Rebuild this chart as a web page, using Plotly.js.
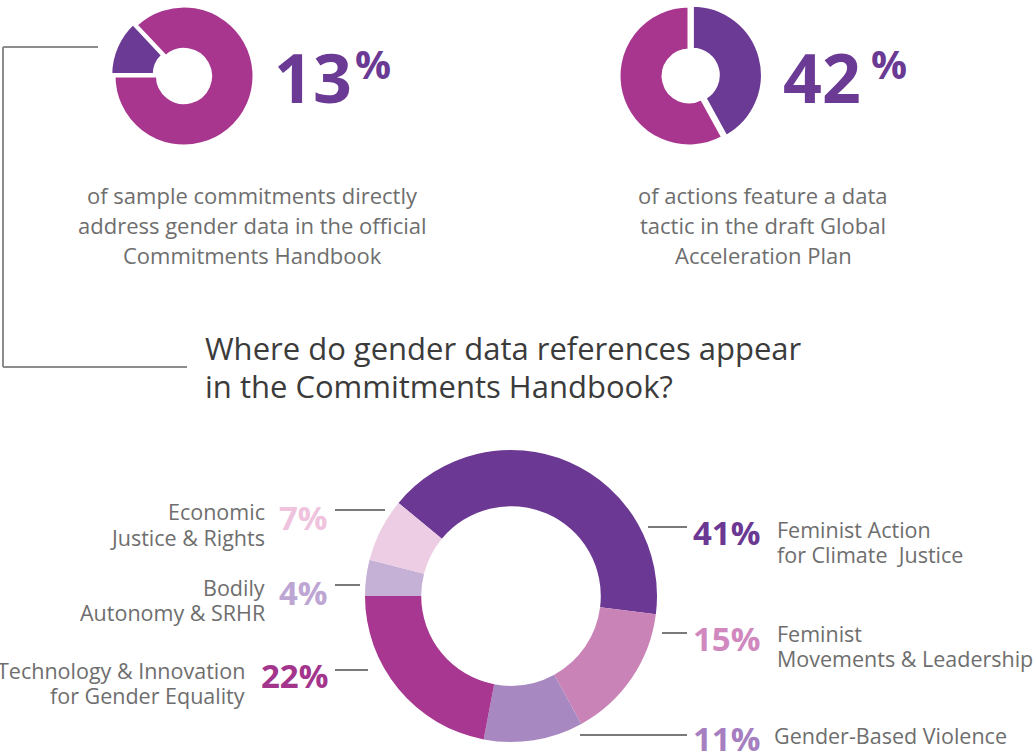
<!DOCTYPE html>
<html><head><meta charset="utf-8">
<script src="https://cdn.plot.ly/plotly-3.0.1.min.js"></script>
<style>html,body{margin:0;padding:0;background:#fff}#chart{width:1036px;height:753px}</style>
</head><body><div id="chart"></div>
<script>
// ---------- DATA ----------
const stat1Labels = ["Directly address gender data", "Other sample commitments"];
const stat1Values = [13, 87];
const stat1Lines = ["of sample commitments directly", "address gender data in the official", "Commitments Handbook"];

const stat2Labels = ["Feature a data tactic", "Other actions"];
const stat2Values = [42, 58];
const stat2Lines = ["of actions feature a data", "tactic in the draft Global", "Acceleration Plan"];

const titleLines = ["Where do gender data references appear", "in the Commitments Handbook?"];

const categories = ["Feminist Action for Climate Justice", "Feminist Movements & Leadership", "Gender-Based Violence",
  "Technology & Innovation for Gender Equality", "Bodily Autonomy & SRHR", "Economic Justice & Rights"];
const categoryLines = [["Feminist Action", "for Climate  Justice"], ["Feminist", "Movements & Leadership"], ["Gender-Based Violence"],
  ["Technology & Innovation", "for Gender Equality"], ["Bodily", "Autonomy & SRHR"], ["Economic", "Justice & Rights"]];
const shares = [41, 15, 11, 22, 4, 7];

// ---------- STYLE ----------
const W = 1036, H = 753;
const X = px => px / W, Y = py => 1 - py / H;
const PURPLE = "#6a3a94", MAGENTA = "#a8368f";
const sliceColors = ["#6b3893", "#c983b7", "#a888c0", "#a73790", "#c6b1d6", "#edcde3"];
const pctColors = ["#6b3893", "#d088bf", "#a67fc1", "#a3358c", "#bea6d4", "#efc3dd"];
const GRAY = "#6e6e6e";
const BODY = "Open Sans, Lato, sans-serif";

function dom(cx, cy, half) {
  return { x: [X(cx - half), X(cx + half)], y: [Y(cy + half), Y(cy - half)] };
}

const traces = [
  { type: "pie", labels: stat1Labels, values: stat1Values, hole: 0.38, sort: false, direction: "clockwise",
    rotation: -90, pull: [0.05, 0], textinfo: "none", hoverinfo: "none",
    marker: { colors: [PURPLE, MAGENTA], line: { color: "#fff", width: 3 } }, domain: dom(184, 76, 73.5) },
  { type: "pie", labels: stat2Labels, values: stat2Values, hole: 0.37, sort: false, direction: "clockwise",
    rotation: 0, pull: [0.05, 0], textinfo: "none", hoverinfo: "none",
    marker: { colors: [PURPLE, MAGENTA], line: { color: "#fff", width: 3 } }, domain: dom(689, 76, 73.5) },
  { type: "pie", labels: categories, values: shares, hole: 0.615, sort: false, direction: "clockwise",
    rotation: -50.4, textinfo: "none", hoverinfo: "none",
    marker: { colors: sliceColors, line: { color: "#fff", width: 0 } }, domain: dom(511, 596, 146) }
];

const ann = [];
function txt(text, x, y, size, color, xanchor, opts) {
  ann.push(Object.assign({ text: text, x: X(x), y: Y(y), xref: "paper", yref: "paper", showarrow: false,
    xanchor: xanchor, yanchor: "middle", font: { family: BODY, size: size, color: color } }, opts || {}));
}

// Big stats
txt("<b>" + stat1Values[0] + "</b>", 272, 76, 68, PURPLE, "left");
txt("<b>%</b>", 353, 63, 40, PURPLE, "left");
txt("<b>" + stat2Values[0] + "</b>", 781, 76, 68, PURPLE, "left");
txt("<b>%</b>", 869, 63, 40, PURPLE, "left");

stat1Lines.forEach((s, i) => txt(s, 252, 195 + 30 * i, 22, GRAY, "center"));
stat2Lines.forEach((s, i) => txt(s, 763, 195 + 30 * i, 22, GRAY, "center"));
titleLines.forEach((s, i) => txt(s, 203, 348 + 38 * i, 31, "#3b3b3b", "left"));

// Big donut labels: [side, pctY, labelEdgeX, firstLineY, leader x0, x1, leaderY]
const place = [
  ["R", 532, 775, 529, 648, 687, 527],
  ["R", 638, 775, 633, 662, 687, 633],
  ["R", 738, 772, 735, 580, 687, 735],
  ["L", 675, 247, 670, 335, 368, 670],
  ["L", 592, 267, 587, 335, 360, 585],
  ["L", 517, 267, 512, 335, 385, 510]
];
const shapes = [];
shares.forEach((v, i) => {
  const p = place[i];
  const right = p[0] === "R";
  txt("<b>" + v + "%</b>", right ? 691 : 330, p[1], 33, pctColors[i], right ? "left" : "right");
  categoryLines[i].forEach((s, j) => txt(s, p[2], p[3] + 25 * j, 21.5, GRAY, right ? "left" : "right"));
  shapes.push({ type: "line", xref: "paper", yref: "paper", x0: X(p[4]), x1: X(p[5]), y0: Y(p[6]), y1: Y(p[6]),
    line: { color: "#7a7a7a", width: 2 } });
});

// Bracket connector
[[3, 47, 98, 47], [3, 47, 3, 367], [3, 367, 187, 367]].forEach(s => shapes.push({
  type: "line", xref: "paper", yref: "paper", x0: X(s[0]), y0: Y(s[1]), x1: X(s[2]), y1: Y(s[3]),
  line: { color: "#8c8c8c", width: 2 } }));

const layout = {
  width: W, height: H, margin: { l: 0, r: 0, t: 0, b: 0 }, showlegend: false,
  paper_bgcolor: "#fff", plot_bgcolor: "#fff", annotations: ann, shapes: shapes
};
Plotly.newPlot("chart", traces, layout, { displayModeBar: false, staticPlot: true });
</script></body></html>
